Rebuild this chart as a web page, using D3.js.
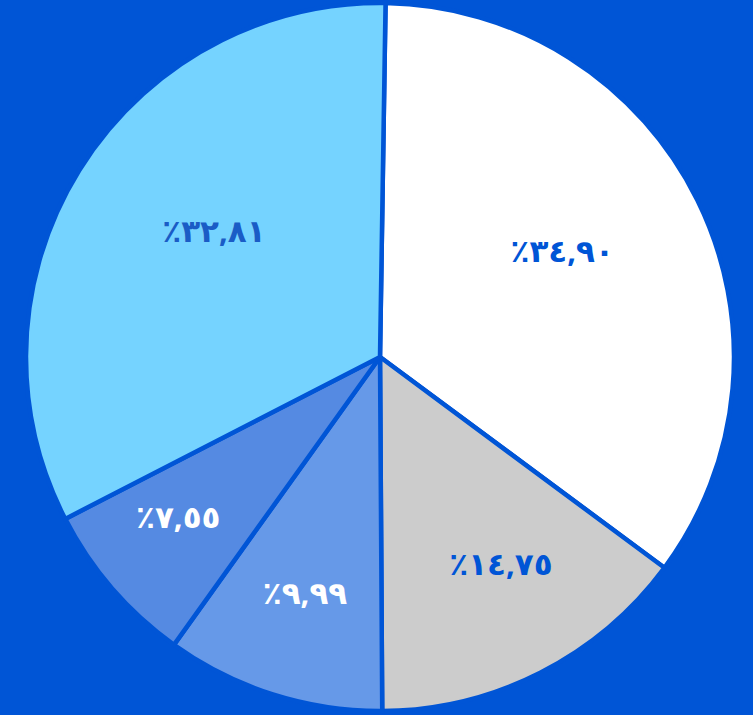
<!DOCTYPE html>
<html>
<head>
<meta charset="utf-8">
<script src="https://cdn.jsdelivr.net/npm/d3@7"></script>
<style>
  body { margin: 0; background: #0055d6; }
  svg { display: block; }
</style>
</head>
<body>
<svg id="chart" width="753" height="715"></svg>
<script>
// data
var slices = ["a", "b", "c", "d", "e"];
var shares = [34.90, 14.75, 9.99, 7.55, 32.81];
var sliceColors = ["#ffffff", "#cccccc", "#6699e8", "#558ae2", "#75d3ff"];
var labelColors = ["#0055d6", "#0055d6", "#ffffff", "#ffffff", "#1a5cc6"];

var width = 753, height = 715;
var cx = 380, cy = 357, radius = 354;
var bg = "#0055d6";

// arabic-indic digits, comma decimal
function fmt(v) {
    var digits = "٠١٢٣٤٥٦٧٨٩";
    var s = v.toFixed(2).replace(".", ",");
    return "٪" + s.replace(/[0-9]/g, function (c) { return digits[+c]; });
}

var svg = d3.select("#chart");

svg.append("rect")
    .attr("width", width)
    .attr("height", height)
    .attr("fill", bg);

var start = 0.9 * Math.PI / 180;
var pie = d3.pie()
    .sort(null)
    .value(function (d) { return d; })
    .startAngle(start)
    .endAngle(start + 2 * Math.PI);

var arc = d3.arc()
    .innerRadius(0)
    .outerRadius(radius);

var arcs = pie(shares);

var g = svg.append("g")
    .attr("transform", "translate(" + cx + "," + cy + ")");

g.selectAll("path")
    .data(arcs)
    .enter()
    .append("path")
    .attr("d", arc)
    .attr("fill", function (d, i) { return sliceColors[i]; })
    .attr("stroke", bg)
    .attr("stroke-width", 4.5)
    .attr("stroke-linejoin", "round");

// labels sit further out for the narrow slices
g.selectAll("text")
    .data(arcs)
    .enter()
    .append("text")
    .attr("transform", function (d) {
        var r = 296 - 2.85 * d.data;
        var la = (d.startAngle + d.endAngle) / 2;
        return "translate(" + (r * Math.sin(la) + 6) + "," + (-r * Math.cos(la) - 20) + ")";
    })
    .attr("text-anchor", "middle")
    .attr("dominant-baseline", "central")
    .attr("direction", "ltr")
    .attr("unicode-bidi", "bidi-override")
    .style("font-family", "'Noto Sans', 'DejaVu Sans', sans-serif")
    .style("font-weight", "bold")
    .style("font-size", "31px")
    .attr("fill", function (d, i) { return labelColors[i]; })
    .text(function (d) { return fmt(d.data); });
</script>
</body>
</html>
